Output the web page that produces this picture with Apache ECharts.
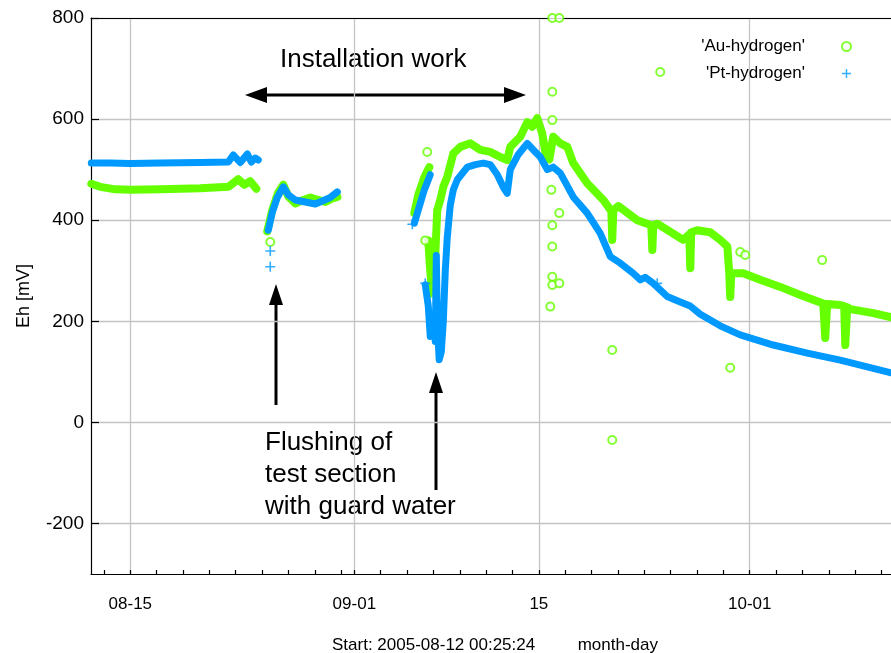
<!DOCTYPE html>
<html>
<head>
<meta charset="utf-8">
<script src="https://cdn.jsdelivr.net/npm/echarts@6/dist/echarts.min.js"></script>
<style>
html,body{margin:0;padding:0;background:#fff;}
#chart{width:891px;height:653px;}
</style>
</head>
<body>
<div id="chart"></div>
<script>
// x values: days since 2005-08-12 00:00
const xMin = 0.0176;   // start 00:25:24
const xMax = 60.72;

const majorTickDays = [3, 20, 34, 50];
const majorTickLabels = ['08-15', '09-01', '15', '10-01'];
const allTickDays = [1, 3, 5, 7, 9, 11, 13, 15, 17, 19, 20, 22, 24, 26, 28, 30, 32, 34, 36, 38, 40, 42, 44, 46, 48, 50, 52, 54, 56, 58, 60];
const yTickValues = [-200, 0, 200, 400, 600, 800];

// Au-hydrogen (dense record) ; null = gap in record
const auDays = [0.04, 0.72, 1.86, 3.0, 5.28, 8.31, 10.44, 11.19, 11.65, 12.1, 12.56, 12.9,
  13.39, 13.77, 14.23, 14.61, 14.99, 15.52, 16.13, 16.66, 17.26, 17.8, 18.32, 18.71, 20.0,
  24.55, 24.85, 25.31, 25.69, 25.65,
  25.61, 25.76, 25.91, 26.07, 26.29, 26.52, 26.75, 27.05, 27.51, 28.04, 28.8, 29.56, 30.31, 31.07, 31.6, 31.83,
  32.59, 33.12, 33.5, 33.88, 34.25, 34.56, 34.79, 35.09, 35.63, 36.16, 36.61, 37.67, 38.89, 39.5, 39.57, 39.65,
  40.03, 41.47, 42.53, 42.61, 42.68, 42.98, 44.95, 45.41, 45.49, 45.56, 46.02, 47.0, 47.76, 48.3, 48.45, 48.52, 48.6,
  48.75, 49.51, 50.8, 52.32, 53.84, 55.58, 55.73, 55.88, 56.87, 57.17, 57.25, 57.4, 57.63, 59.37, 60.74];
const auVals = [472, 466, 461, 460, 461, 463, 466, 481, 470, 477, 462, null,
  378, 420, 455, 470, 447, 433, 440, 445, 440, 436, 443, 446, null,
  414, 450, 485, 505, null,
  360, 300, 255, 290, 420, 440, 466, 486, 532, 545, 552, 539, 535, 525, 519, 545,
  565, 594, 585, 602, 572, 525, 520, 565, 552, 545, 513, 473, 440, 418, 361, 420,
  428, 400, 390, 341, 390, 393, 361, 372, 305, 376, 380, 376, 361, 348, 295, 248, 295,
  295, 295, 282, 268, 252, 235, 167, 234, 232, 230, 153, 228, 224, 216, 208];

// Au-hydrogen isolated readings
const auOutDays = [35.02, 35.55, 35.02, 35.02, 34.95, 35.55, 35.02, 35.02, 35.02, 35.02, 35.55, 34.87,
  39.57, 39.57, 48.52, 55.5, 43.21, 25.53, 25.38, 13.62, 49.28, 49.66];
const auOutVals = [800, 800, 654, 598, 460, 414, 390, 348, 288, 272, 275, 229,
  -35, 143, 108, 321, 693, 535, 360, 357, 337, 331];

// Pt-hydrogen (dense record)
const ptDays = [0.04, 1.48, 3.0, 5.28, 8.31, 10.44, 10.81, 11.35, 11.88, 12.18, 12.48, 12.71, 12.9,
  13.47, 13.77, 14.15, 14.61, 14.99, 15.52, 16.28, 17.04, 17.57, 18.17, 18.71, 20.0,
  24.55, 24.85, 25.31, 25.76, 25.7,
  25.38, 25.61, 25.76, 25.99, 26.14, 26.22, 26.3, 26.44, 26.6, 26.75, 26.9, 27.05, 27.28, 27.51, 27.81, 28.57, 29.18, 29.78,
  30.31, 30.85, 31.3, 31.6, 31.83, 32.44, 33.12, 33.58, 34.11, 34.64, 35.09, 35.63, 36.61, 37.67, 38.66, 39.42,
  40.18, 41.16, 41.7, 42.07, 42.68, 43.74, 44.73, 45.49, 46.25, 47.76, 49.28, 51.79, 54.37, 56.87, 60.74];
const ptVals = [513, 513, 512, 513, 514, 515, 529, 514, 531, 515, 523, 519, null,
  380, 415, 445, 466, 450, 440, 436, 432, 438, 445, 456, null,
  394, 420, 460, 490, null,
  272, 230, 170, 200, 160, 330, 190, 124, 140, 200, 300, 366, 430, 460, 480, 505, 510, 513,
  510, 490, 465, 453, 500, 530, 552, 539, 525, 500, 505, 493, 446, 414, 374, 328,
  315, 295, 282, 287, 275, 249, 238, 230, 214, 191, 173, 153, 137, 123, 98];

// Pt-hydrogen isolated readings
const ptOutDays = [13.62, 13.62, 42.98, 25.38, 24.4];
const ptOutVals = [308, 339, 275, 275, 392];

const GREEN = '#66ff00';
const BLUE = '#0099ff';
const FONT = '"Liberation Sans", Arial, Helvetica, sans-serif';
const CROSS = 'path://M4.2,0H5.8V4.2H10V5.8H5.8V10H4.2V5.8H0V4.2H4.2Z';

function pairs(xs, ys) {
  return xs.map((x, i) => [x, ys[i] === null ? '-' : ys[i]]);
}

const chart = echarts.init(document.getElementById('chart'), null, {renderer: 'canvas'});

const option = {
  animation: false,
  backgroundColor: '#fff',
  grid: {left: 91, right: 0, top: 18, bottom: 79, containLabel: false, outerBoundsMode: 'none'},
  legend: {
    orient: 'vertical',
    right: 34,
    top: 33,
    align: 'right',
    itemWidth: 9,
    itemHeight: 9,
    itemGap: 10,
    textStyle: {fontFamily: FONT, fontSize: 17, color: '#000', padding: [0, 32, 0, 0]},
    data: ["'Au-hydrogen'", "'Pt-hydrogen'"]
  },
  xAxis: [{
    type: 'value',
    min: xMin,
    max: xMax,
    position: 'bottom',
    axisLine: {show: true, onZero: false, lineStyle: {color: '#000', width: 1.2}},
    axisTick: {show: true, inside: true, length: 4, customValues: allTickDays, lineStyle: {color: '#000', width: 1.2}},
    axisLabel: {
      show: true, margin: 22, customValues: majorTickDays,
      fontFamily: FONT, fontSize: 17, color: '#000',
      formatter: function (v) { const i = majorTickDays.indexOf(Math.round(v)); return i >= 0 ? majorTickLabels[i] : ''; }
    },
    splitLine: {show: false},
    name: 'Start: 2005-08-12 00:25:24         month-day',
    nameLocation: 'middle',
    nameGap: 63,
    nameTextStyle: {fontFamily: FONT, fontSize: 17, color: '#000', padding: [0, 0, 0, 8]}
  }, {
    type: 'value',
    min: xMin,
    max: xMax,
    position: 'top',
    axisLine: {show: true, onZero: false, lineStyle: {color: '#000', width: 1.2}},
    axisTick: {show: false, customValues: majorTickDays},
    axisLabel: {show: false},
    splitLine: {show: true, lineStyle: {color: '#c4c4c4', width: 1.3}}
  }],
  yAxis: {
    type: 'value',
    min: -300,
    max: 800,
    axisLine: {show: true, onZero: false, lineStyle: {color: '#000', width: 1.2}},
    axisTick: {show: true, inside: true, length: 8, customValues: yTickValues, lineStyle: {color: '#000', width: 1.2}},
    axisLabel: {margin: 7, customValues: yTickValues, fontFamily: FONT, fontSize: 19, color: '#000'},
    splitLine: {show: true, lineStyle: {color: '#c4c4c4', width: 1.3}},
    name: 'Eh [mV]',
    nameLocation: 'middle',
    nameGap: 58,
    nameRotate: 90,
    nameTextStyle: {fontFamily: FONT, fontSize: 18, color: '#000'}
  },
  series: [{
    name: 'Au record',
    type: 'line',
    xAxisIndex: 0,
    data: pairs(auDays, auVals),
    showSymbol: false,
    symbol: 'none',
    connectNulls: false,
    lineStyle: {color: GREEN, width: 8, cap: 'round', join: 'round'},
    itemStyle: {color: GREEN},
    z: 2
  }, {
    name: "'Au-hydrogen'",
    type: 'scatter',
    xAxisIndex: 0,
    data: pairs(auOutDays, auOutVals),
    symbol: 'emptyCircle',
    symbolSize: 8,
    itemStyle: {color: GREEN, borderColor: GREEN, borderWidth: 1.5},
    z: 3
  }, {
    name: 'Pt record',
    type: 'line',
    xAxisIndex: 0,
    data: pairs(ptDays, ptVals),
    showSymbol: false,
    symbol: 'none',
    connectNulls: false,
    lineStyle: {color: BLUE, width: 7, cap: 'round', join: 'round'},
    itemStyle: {color: BLUE},
    z: 4
  }, {
    name: "'Pt-hydrogen'",
    type: 'scatter',
    xAxisIndex: 0,
    data: pairs(ptOutDays, ptOutVals),
    symbol: CROSS,
    symbolSize: 10,
    itemStyle: {color: BLUE},
    z: 5
  }],
  graphic: [
    {type: 'text', left: 280, top: 47, style: {text: 'Installation work', font: '26px ' + FONT, fill: '#000'}},
    {type: 'line', shape: {x1: 262, y1: 95, x2: 509, y2: 95}, style: {stroke: '#000', lineWidth: 3}},
    {type: 'polygon', shape: {points: [[245, 95], [267, 87], [267, 103]]}, style: {fill: '#000'}},
    {type: 'polygon', shape: {points: [[526, 95], [504, 87], [504, 103]]}, style: {fill: '#000'}},
    {type: 'line', shape: {x1: 276, y1: 405, x2: 276, y2: 300}, style: {stroke: '#000', lineWidth: 3}},
    {type: 'polygon', shape: {points: [[276, 284], [269, 305], [283, 305]]}, style: {fill: '#000'}},
    {type: 'line', shape: {x1: 436, y1: 490, x2: 436, y2: 388}, style: {stroke: '#000', lineWidth: 3}},
    {type: 'polygon', shape: {points: [[436, 372], [429, 393], [443, 393]]}, style: {fill: '#000'}},
    {type: 'text', left: 265, top: 427, style: {text: 'Flushing of\ntest section\nwith guard water', font: '26px ' + FONT, lineHeight: 32, fill: '#000'}}
  ]
};
chart.setOption(option);
</script>
</body>
</html>
